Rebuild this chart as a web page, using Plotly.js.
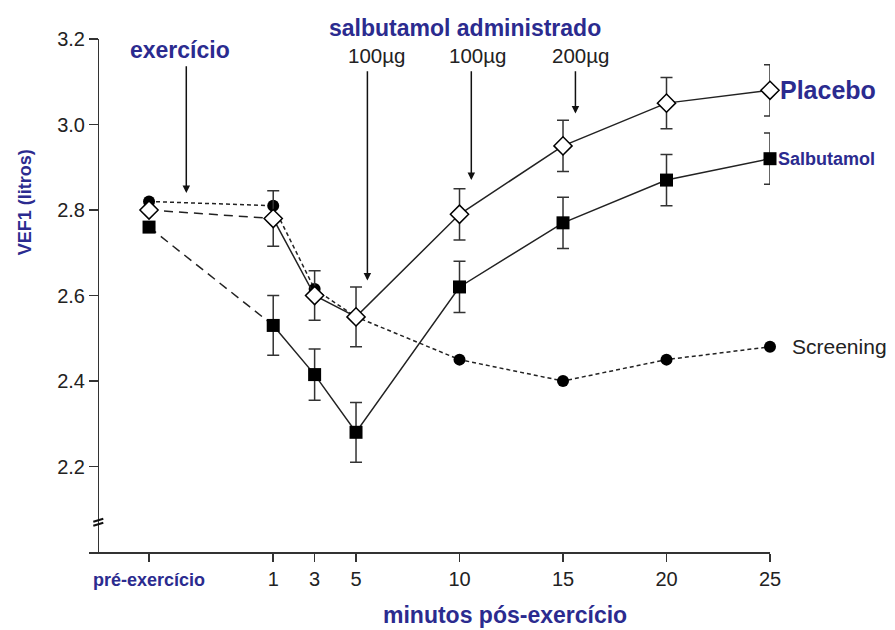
<!DOCTYPE html>
<html>
<head>
<meta charset="utf-8">
<script src="https://cdn.plot.ly/plotly-3.0.1.min.js"></script>
<style>html,body{margin:0;padding:0;background:#fff;}#chart{width:895px;height:630px;}</style>
</head>
<body>
<div id="chart"></div>
<script>
// ---- data ----
const minutes = [-5, 1, 3, 5, 10, 15, 20, 25];
const tickLabels = ['pré-exercício', '1', '3', '5', '10', '15', '20', '25'];
const placebo = [2.80, 2.78, 2.60, 2.55, 2.79, 2.95, 3.05, 3.08];
const placeboErr = [0, 0.065, 0.058, 0.07, 0.06, 0.06, 0.06, 0.06];
const salbutamol = [2.76, 2.53, 2.415, 2.28, 2.62, 2.77, 2.87, 2.92];
const salbutamolErr = [0, 0.07, 0.06, 0.07, 0.06, 0.06, 0.06, 0.06];
const screening = [2.82, 2.81, 2.615, 2.55, 2.45, 2.40, 2.45, 2.48];
const yTicks = [2.2, 2.4, 2.6, 2.8, 3.0, 3.2];
const doses = ['100µg', '100µg', '200µg'];

const BLUE = '#2b2b8f';
const INK = '#222';
const FONT = 'Liberation Sans, Arial, Helvetica, sans-serif';

const ticktext = tickLabels.map((t, i) => i === 0
  ? '<span style="color:' + BLUE + ';font-size:18px"><b>' + t + '</b></span>' : t);

const traces = [
  { x: minutes, y: screening, mode: 'lines+markers', cliponaxis: false,
    line: { color: INK, width: 1.5, dash: '4px,3px' },
    marker: { symbol: 'circle', size: 12, color: '#000' } },
  { x: minutes.slice(0, 2), y: salbutamol.slice(0, 2), mode: 'lines', cliponaxis: false,
    line: { color: INK, width: 1.5, dash: '9px,6px' } },
  { x: minutes.slice(1), y: salbutamol.slice(1), mode: 'lines', cliponaxis: false,
    line: { color: INK, width: 1.5 } },
  { x: minutes.slice(0, 2), y: placebo.slice(0, 2), mode: 'lines', cliponaxis: false,
    line: { color: INK, width: 1.5, dash: '9px,6px' } },
  { x: minutes.slice(1), y: placebo.slice(1), mode: 'lines', cliponaxis: false,
    line: { color: INK, width: 1.5 } },
  { x: minutes, y: salbutamol, mode: 'markers', cliponaxis: false,
    marker: { symbol: 'square', size: 13, color: '#000' },
    error_y: { type: 'data', array: salbutamolErr, visible: true, color: '#333', thickness: 1.5, width: 6 } },
  { x: minutes, y: placebo, mode: 'markers', cliponaxis: false,
    marker: { symbol: 'diamond', size: 14, color: '#fff', line: { color: '#000', width: 1.5 } },
    error_y: { type: 'data', array: placeboErr, visible: true, color: '#333', thickness: 1.5, width: 6 } }
];

const last = minutes.length - 1;
const arrow = { xref: 'x', yref: 'y', axref: 'x', ayref: 'y', text: '', showarrow: true,
  arrowhead: 2, arrowsize: 1, arrowwidth: 1.5, arrowcolor: '#111', standoff: 0 };
const annotations = [
  // arrows
  Object.assign({ x: -3.2, y: 2.84, ax: -3.2, ay: 3.14 }, arrow),
  Object.assign({ x: 5.55, y: 2.635, ax: 5.55, ay: 3.128 }, arrow),
  Object.assign({ x: 10.57, y: 2.87, ax: 10.57, ay: 3.128 }, arrow),
  Object.assign({ x: 15.6, y: 3.026, ax: 15.6, ay: 3.128 }, arrow),
  // texts
  { x: -3.49, y: 3.174, xref: 'x', yref: 'y', text: '<b>exercício</b>', showarrow: false,
    xanchor: 'center', yanchor: 'middle', font: { family: FONT, size: 23, color: BLUE } },
  { x: 10.27, y: 1.022, xref: 'x', yref: 'paper', text: '<b>salbutamol administrado</b>', showarrow: false,
    xanchor: 'center', yanchor: 'middle', font: { family: FONT, size: 23, color: BLUE } },
  { x: 5.97, y: 3.162, xref: 'x', yref: 'y', text: doses[0], showarrow: false,
    xanchor: 'center', yanchor: 'middle', font: { family: FONT, size: 20.5, color: INK } },
  { x: 10.85, y: 3.162, xref: 'x', yref: 'y', text: doses[1], showarrow: false,
    xanchor: 'center', yanchor: 'middle', font: { family: FONT, size: 20.5, color: INK } },
  { x: 15.84, y: 3.162, xref: 'x', yref: 'y', text: doses[2], showarrow: false,
    xanchor: 'center', yanchor: 'middle', font: { family: FONT, size: 20.5, color: INK } },
  // series labels
  { x: minutes[last], y: placebo[last], xref: 'x', yref: 'y', xanchor: 'left', yanchor: 'middle', xshift: 8,
    text: '<b>Placebo</b>', showarrow: false, font: { family: FONT, size: 25, color: BLUE } },
  { x: minutes[last], y: salbutamol[last], xref: 'x', yref: 'y', xanchor: 'left', yanchor: 'middle', xshift: 6,
    text: '<b>Salbutamol</b>', showarrow: false, font: { family: FONT, size: 18, color: BLUE } },
  { x: minutes[last], y: screening[last], xref: 'x', yref: 'y', xanchor: 'left', yanchor: 'middle', xshift: 20,
    text: 'Screening', showarrow: false, font: { family: FONT, size: 21, color: INK } },
  // axis titles
  { x: -0.094, y: 2.818, xref: 'paper', yref: 'y', textangle: -90, xanchor: 'center', yanchor: 'middle',
    text: '<b>VEF1 (litros)</b>', showarrow: false, font: { family: FONT, size: 18, color: BLUE } },
  { x: 12.2, y: -0.123, xref: 'x', yref: 'paper', xanchor: 'center', yanchor: 'middle',
    text: '<b>minutos pós-exercício</b>', showarrow: false, font: { family: FONT, size: 23, color: BLUE } }
];

const shapes = [
  // axis break marks on the y axis
  { type: 'line', xref: 'x', yref: 'y', xsizemode: 'pixel', ysizemode: 'pixel',
    xanchor: -7.45, yanchor: 2.073, x0: -5, x1: 5, y0: -1, y1: 2, line: { color: '#111', width: 2 } },
  { type: 'line', xref: 'x', yref: 'y', xsizemode: 'pixel', ysizemode: 'pixel',
    xanchor: -7.45, yanchor: 2.073, x0: -5, x1: 5, y0: -5, y1: -2, line: { color: '#111', width: 2 } }
];

const layout = {
  width: 895, height: 630,
  margin: { l: 89, r: 125, t: 39, b: 78 },
  paper_bgcolor: '#fff', plot_bgcolor: '#fff',
  showlegend: false,
  font: { family: FONT, size: 20, color: INK },
  xaxis: {
    range: [-7.9, 25], showgrid: false, zeroline: false,
    showline: true, linecolor: '#333', linewidth: 1.5,
    ticks: 'outside', ticklen: 8, tickwidth: 1.5, tickcolor: '#333',
    tickvals: minutes, ticktext: ticktext,
    tickfont: { family: FONT, size: 20, color: INK }
  },
  yaxis: {
    range: [2.0, 3.2], anchor: 'free', position: 0.0132,
    showgrid: false, zeroline: false,
    showline: true, linecolor: '#333', linewidth: 1.5,
    ticks: 'outside', ticklen: 9, tickwidth: 1.5, tickcolor: '#333',
    tickvals: yTicks, tickformat: '.1f',
    tickfont: { family: FONT, size: 20, color: INK }
  },
  annotations: annotations,
  shapes: shapes
};

Plotly.newPlot('chart', traces, layout, { displayModeBar: false, staticPlot: true });
</script>
</body>
</html>
